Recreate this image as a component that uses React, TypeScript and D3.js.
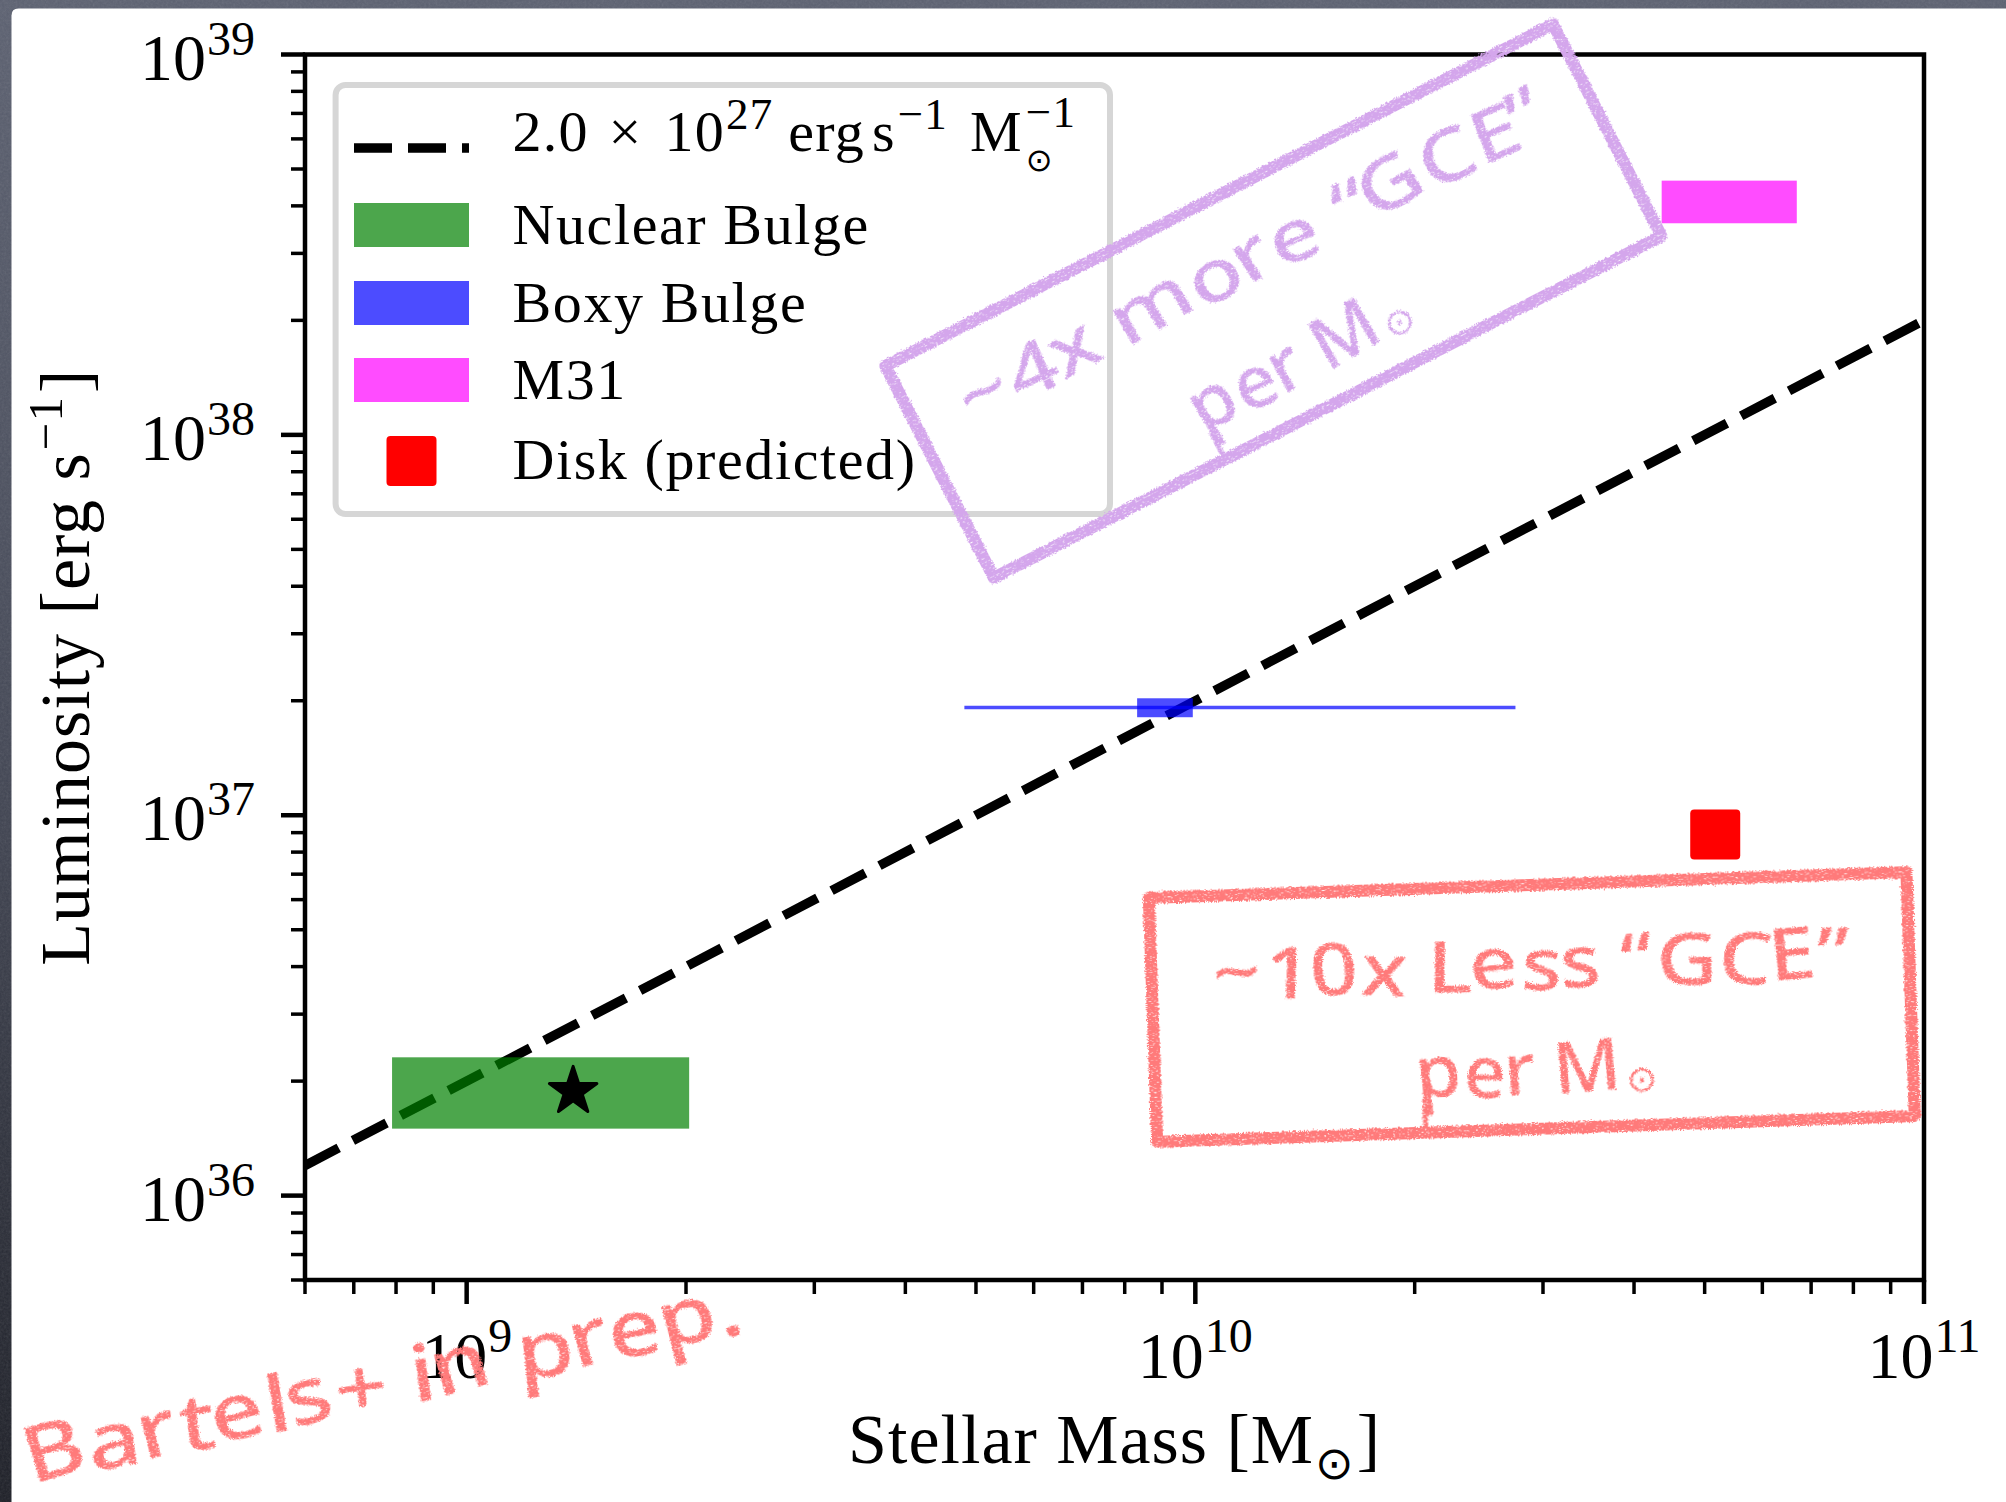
import React, { useEffect, useRef } from "react";
import * as d3 from "d3";

const WIDTH = 2006;
const HEIGHT = 1502;

const SERIF = "'Liberation Serif', 'Times New Roman', serif";
const SYMBOL = "'DejaVu Sans', sans-serif";
const HAND = "'Noto Sans', 'Open Sans', sans-serif";

// Reference scaling: gamma-ray luminosity per unit stellar mass (erg s^-1 Msun^-1)
const lumPerMass = 2.0e27;
const lineMassRange = [6e8, 1e11];

// Shaded regions: stellar-mass range and luminosity range of each component
const regionNames = ["Nuclear Bulge", "Boxy Bulge", "M31"];
const regionColors = ["green", "blue", "magenta"];
const regionMassLow = [7.9e8, 8.32e9, 4.365e10];
const regionMassHigh = [2.02e9, 9.92e9, 6.69e10];
const regionLumLow = [1.5e36, 1.81e37, 3.6e38];
const regionLumHigh = [2.31e36, 2.03e37, 4.66e38];

// Boxy bulge: full stellar-mass uncertainty at its central luminosity
const boxyMassSpan = [4.82e9, 2.75e10];
const boxyLum = 1.92e37;

// Nuclear bulge central estimate
const starMass = 1.4e9;
const starLum = 1.88e36;

// Disk prediction
const diskName = "Disk (predicted)";
const diskMass = 5.17e10;
const diskLum = 8.9e36;

// Axis ranges and decade labels
const xDomain = [6e8, 1e11];
const yDomain = [6e35, 1e39];
const xDecades = [9, 10, 11];
const yDecades = [36, 37, 38, 39];

// Hand-written annotations
const moreNoteLines = ["~4x more \u201CGCE\u201D", "per M"];
const lessNoteLines = ["~10x Less \u201CGCE\u201D", "per M"];
const creditNote = "Bartels+ in prep.";

// small per-letter tilts that give the chalk lettering a hand-drawn look
const letterTilt = [-4, 3, -2, 5, -3, 2, -5, 4, -1, 3, -4, 2, 5, -3, 1, -2, 4];

const PLOT = { left: 305, right: 1924, top: 54.5, bottom: 1280 };

type Part = {
  t: string;
  size: number;
  dy?: number;
  gap?: number;
  stack?: boolean;
  family?: string;
};

// Lays out a run of text pieces (base, super- and subscripts) left to right.
function richText(
  parent: any,
  parts: Part[],
  x: number,
  y: number,
  anchor: "start" | "middle" | "end",
  opts: { family: string; fill: string; rotate?: number; spacing?: number }
) {
  const g = parent
    .append("g")
    .attr("transform", `translate(${x},${y})${opts.rotate ? ` rotate(${opts.rotate})` : ""}`);
  const inner = g.append("g");
  let cursor = 0;
  let lastStart = 0;
  let lastEnd = 0;
  parts.forEach((p) => {
    const start = p.stack ? lastStart : cursor + (p.gap || 0);
    const el = inner
      .append("text")
      .attr("x", start)
      .attr("y", p.dy || 0)
      .attr("font-size", p.size)
      .attr("font-family", p.family || opts.family)
      .attr("fill", opts.fill)
      .attr("letter-spacing", opts.spacing || 0)
      .text(p.t);
    const w = (el.node() as SVGTextElement).getComputedTextLength();
    const end = start + w;
    if (p.stack) {
      cursor = Math.max(lastEnd, end);
      lastEnd = cursor;
    } else {
      lastStart = start;
      lastEnd = end;
      cursor = end;
    }
  });
  const shift = anchor === "middle" ? -cursor / 2 : anchor === "end" ? -cursor : 0;
  inner.attr("transform", `translate(${shift},0)`);
  return g;
}

function draw(svgEl: SVGSVGElement) {
  const svg = d3.select(svgEl);
  svg.selectAll("*").remove();

  const defs = svg.append("defs");

  const grad = defs
    .append("linearGradient")
    .attr("id", "frameShade")
    .attr("x1", 0)
    .attr("y1", 0)
    .attr("x2", 0)
    .attr("y2", 1);
  grad.append("stop").attr("offset", 0).attr("stop-color", "#5c6171");
  grad.append("stop").attr("offset", 0.5).attr("stop-color", "#434755");
  grad.append("stop").attr("offset", 1).attr("stop-color", "#1c1e26");

  const grain = defs.append("filter").attr("id", "slateGrain");
  grain
    .append("feTurbulence")
    .attr("type", "fractalNoise")
    .attr("baseFrequency", 0.45)
    .attr("numOctaves", 3)
    .attr("seed", 4);
  grain.append("feColorMatrix").attr("type", "saturate").attr("values", 0);

  // chalk texture for hand-drawn marks: ragged edges plus a few light streaks
  const chalk = defs
    .append("filter")
    .attr("id", "chalk")
    .attr("x", "-10%")
    .attr("y", "-10%")
    .attr("width", "120%")
    .attr("height", "120%");
  chalk
    .append("feTurbulence")
    .attr("type", "fractalNoise")
    .attr("baseFrequency", 0.9)
    .attr("numOctaves", 2)
    .attr("seed", 7)
    .attr("result", "wobble");
  chalk
    .append("feDisplacementMap")
    .attr("in", "SourceGraphic")
    .attr("in2", "wobble")
    .attr("scale", 5)
    .attr("xChannelSelector", "R")
    .attr("yChannelSelector", "G")
    .attr("result", "shifted");
  chalk
    .append("feTurbulence")
    .attr("type", "fractalNoise")
    .attr("baseFrequency", "0.35 1.2")
    .attr("numOctaves", 1)
    .attr("seed", 11)
    .attr("result", "speck");
  chalk
    .append("feColorMatrix")
    .attr("in", "speck")
    .attr("type", "matrix")
    .attr("values", "0 0 0 0 0  0 0 0 0 0  0 0 0 0 0  0 0 0 4.5 -0.9")
    .attr("result", "speckMask");
  chalk
    .append("feComposite")
    .attr("in", "shifted")
    .attr("in2", "speckMask")
    .attr("operator", "in");

  defs
    .append("clipPath")
    .attr("id", "plotClip")
    .append("rect")
    .attr("x", PLOT.left)
    .attr("y", PLOT.top)
    .attr("width", PLOT.right - PLOT.left)
    .attr("height", PLOT.bottom - PLOT.top);

  // slate frame and white slide
  svg.append("rect").attr("width", WIDTH).attr("height", HEIGHT).attr("fill", "url(#frameShade)");
  svg
    .append("rect")
    .attr("width", WIDTH)
    .attr("height", HEIGHT)
    .attr("filter", "url(#slateGrain)")
    .attr("opacity", 0.14);
  const px = 11.5;
  const py = 8.5;
  const r = 7;
  svg
    .append("path")
    .attr(
      "d",
      `M${px},${py + r} Q${px},${py} ${px + r},${py} L${WIDTH},${py} L${WIDTH},${HEIGHT} L${px},${HEIGHT} Z`
    )
    .attr("fill", "#ffffff");

  const x = d3.scaleLog().domain(xDomain).range([PLOT.left, PLOT.right]);
  const y = d3.scaleLog().domain(yDomain).range([PLOT.bottom, PLOT.top]);

  const plot = svg.append("g").attr("clip-path", "url(#plotClip)");

  // reference scaling line
  const line = d3
    .line<number>()
    .x((m) => x(m))
    .y((m) => y(m * lumPerMass));
  plot
    .append("path")
    .attr("d", line(lineMassRange))
    .attr("fill", "none")
    .attr("stroke", "#000")
    .attr("stroke-width", 9.5)
    .attr("stroke-dasharray", "38 16");

  // boxy-bulge mass span
  plot
    .append("line")
    .attr("x1", x(boxyMassSpan[0]))
    .attr("x2", x(boxyMassSpan[1]))
    .attr("y1", y(boxyLum))
    .attr("y2", y(boxyLum))
    .attr("stroke", "blue")
    .attr("stroke-opacity", 0.7)
    .attr("stroke-width", 3.5);

  // component regions
  regionNames.forEach((_, i) => {
    plot
      .append("rect")
      .attr("x", x(regionMassLow[i]))
      .attr("y", y(regionLumHigh[i]))
      .attr("width", x(regionMassHigh[i]) - x(regionMassLow[i]))
      .attr("height", y(regionLumLow[i]) - y(regionLumHigh[i]))
      .attr("fill", regionColors[i])
      .attr("fill-opacity", 0.7);
  });

  // nuclear bulge estimate
  plot
    .append("path")
    .attr("d", d3.symbol(d3.symbolStar, 700)())
    .attr("transform", `translate(${x(starMass)},${y(starLum)})`)
    .attr("fill", "#000")
    .attr("stroke", "#000")
    .attr("stroke-width", 3)
    .attr("stroke-linejoin", "round");

  // disk prediction
  const sq = 50;
  plot
    .append("rect")
    .attr("x", x(diskMass) - sq / 2)
    .attr("y", y(diskLum) - sq / 2)
    .attr("width", sq)
    .attr("height", sq)
    .attr("rx", 4)
    .attr("fill", "red");

  // ticks
  const axes = svg.append("g");
  const isMajor = (v: number) => Math.abs(Math.log10(v) - Math.round(Math.log10(v))) < 1e-9;
  x.ticks().forEach((v) => {
    const major = isMajor(v);
    axes
      .append("line")
      .attr("x1", x(v))
      .attr("x2", x(v))
      .attr("y1", PLOT.bottom)
      .attr("y2", PLOT.bottom + (major ? 24 : 14))
      .attr("stroke", "#000")
      .attr("stroke-width", major ? 4.5 : 3.5);
  });
  y.ticks().forEach((v) => {
    const major = isMajor(v);
    axes
      .append("line")
      .attr("y1", y(v))
      .attr("y2", y(v))
      .attr("x1", PLOT.left)
      .attr("x2", PLOT.left - (major ? 24 : 14))
      .attr("stroke", "#000")
      .attr("stroke-width", major ? 4.5 : 3.5);
  });
  axes
    .append("rect")
    .attr("x", PLOT.left)
    .attr("y", PLOT.top)
    .attr("width", PLOT.right - PLOT.left)
    .attr("height", PLOT.bottom - PLOT.top)
    .attr("fill", "none")
    .attr("stroke", "#000")
    .attr("stroke-width", 4.5);

  // tick labels
  xDecades.forEach((e) => {
    richText(
      svg,
      [
        { t: "10", size: 66 },
        { t: String(e), size: 48, dy: -26, gap: 1 },
      ],
      x(Math.pow(10, e)),
      1378,
      "middle",
      { family: SERIF, fill: "#000" }
    );
  });
  yDecades.forEach((e) => {
    richText(
      svg,
      [
        { t: "10", size: 66 },
        { t: String(e), size: 48, dy: -25, gap: 1 },
      ],
      255,
      y(Math.pow(10, e)) + 25,
      "end",
      { family: SERIF, fill: "#000" }
    );
  });

  // axis titles
  richText(
    svg,
    [
      { t: "Stellar Mass [M", size: 70 },
      { t: "\u2299", size: 46, dy: 16, family: SYMBOL, gap: 1 },
      { t: "]", size: 70, gap: 2 },
    ],
    (PLOT.left + PLOT.right) / 2,
    1463,
    "middle",
    { family: SERIF, fill: "#000", spacing: 1 }
  );
  richText(
    svg,
    [
      { t: "Luminosity [erg s", size: 70 },
      { t: "\u22121", size: 49, dy: -27, gap: 2 },
      { t: "]", size: 70, gap: 3 },
    ],
    89,
    (PLOT.top + PLOT.bottom) / 2,
    "middle",
    { family: SERIF, fill: "#000", rotate: -90, spacing: 1 }
  );

  // legend
  const lg = svg.append("g");
  lg.append("rect")
    .attr("x", 335.6)
    .attr("y", 85)
    .attr("width", 774.4)
    .attr("height", 429)
    .attr("rx", 10)
    .attr("fill", "#fff")
    .attr("fill-opacity", 0.8)
    .attr("stroke", "#d6d6d6")
    .attr("stroke-width", 6);

  const handleX0 = 354;
  const handleX1 = 469;
  const textX = 512.5;
  const rowY = [148, 225, 303, 380, 461];

  lg.append("line")
    .attr("x1", handleX0)
    .attr("x2", handleX1)
    .attr("y1", rowY[0])
    .attr("y2", rowY[0])
    .attr("stroke", "#000")
    .attr("stroke-width", 9.5)
    .attr("stroke-dasharray", "38 16");

  const exp = Math.floor(Math.log10(lumPerMass));
  const mant = (lumPerMass / Math.pow(10, exp)).toFixed(1);
  richText(
    lg,
    [
      { t: mant, size: 58 },
      { t: "\u00D7", size: 58, gap: 20 },
      { t: "10", size: 58, gap: 22 },
      { t: String(exp), size: 45, dy: -22, gap: 1 },
      { t: "erg", size: 58, gap: 15 },
      { t: "s", size: 58, gap: 7 },
      { t: "\u22121", size: 45, dy: -22, gap: 2 },
      { t: "M", size: 58, gap: 22 },
      { t: "\u2299", size: 32, dy: 20, family: SYMBOL, gap: 3 },
      { t: "\u22121", size: 45, dy: -24, stack: true },
    ],
    textX,
    rowY[0] + 3,
    "start",
    { family: SERIF, fill: "#000", spacing: 1.2 }
  );

  regionNames.forEach((name, i) => {
    lg.append("rect")
      .attr("x", handleX0)
      .attr("y", rowY[i + 1] - 22)
      .attr("width", handleX1 - handleX0)
      .attr("height", 44)
      .attr("fill", regionColors[i])
      .attr("fill-opacity", 0.7);
    lg.append("text")
      .attr("x", textX)
      .attr("y", rowY[i + 1] + 19)
      .attr("font-family", SERIF)
      .attr("font-size", 58)
      .attr("letter-spacing", 1.6)
      .text(name);
  });
  lg.append("rect")
    .attr("x", (handleX0 + handleX1) / 2 - 25)
    .attr("y", rowY[4] - 25)
    .attr("width", 50)
    .attr("height", 50)
    .attr("rx", 4)
    .attr("fill", "red");
  lg.append("text")
    .attr("x", textX)
    .attr("y", rowY[4] + 18)
    .attr("font-family", SERIF)
    .attr("font-size", 58)
    .attr("letter-spacing", 1.6)
    .text(diskName);

  const tilts = (s: string) => letterTilt.slice(0, Math.min(s.length, letterTilt.length)).join(" ");

  // hand-drawn notes
  const note = (
    cx: number,
    cy: number,
    angle: number,
    w: number,
    h: number,
    color: string,
    lines: string[],
    line1: { u: number; v: number; len: number },
    line2: { u: number; v: number; len: number }
  ) => {
    const g = svg
      .append("g")
      .attr("transform", `translate(${cx},${cy}) rotate(${angle})`)
      .attr("filter", "url(#chalk)");
    g.append("rect")
      .attr("x", -w / 2)
      .attr("y", -h / 2)
      .attr("width", w)
      .attr("height", h)
      .attr("fill", "none")
      .attr("stroke", color)
      .attr("stroke-width", 12)
      .attr("stroke-linejoin", "round");
    g.append("text")
      .attr("x", line1.u)
      .attr("y", line1.v)
      .attr("text-anchor", "middle")
      .attr("font-family", HAND)
      .attr("font-weight", 500)
      .attr("font-size", 72)
      .attr("fill", color)
      .attr("rotate", tilts(lines[0]))
      .attr("textLength", line1.len)
      .attr("lengthAdjust", "spacingAndGlyphs")
      .text(lines[0]);
    const t2 = g
      .append("text")
      .attr("x", line2.u)
      .attr("y", line2.v)
      .attr("text-anchor", "middle")
      .attr("font-family", HAND)
      .attr("font-weight", 500)
      .attr("font-size", 72)
      .attr("fill", color)
      .attr("textLength", line2.len)
      .attr("lengthAdjust", "spacingAndGlyphs");
    t2.append("tspan").attr("rotate", tilts(lines[1])).text(lines[1]);
    t2.append("tspan").attr("font-family", SYMBOL).attr("font-weight", 400).attr("font-size", 36).attr("dx", 4).text("\u2299");
    const stemX = line2.u - line2.len / 2 + 7;
    g.append("line")
      .attr("x1", stemX)
      .attr("x2", stemX)
      .attr("y1", line2.v)
      .attr("y2", h / 2)
      .attr("stroke", color)
      .attr("stroke-width", 5);
  };

  note(1273.4, 301, -27.1, 750, 238, "#d4a6ec", moreNoteLines, { u: 3, v: -25, len: 652 }, { u: -2, v: 88, len: 240 });
  note(1531.8, 1007, -1.95, 758, 244, "#ff7a7a", lessNoteLines, { u: 1.5, v: -18, len: 635 }, { u: 3, v: 88, len: 240 });

  svg
    .append("text")
    .attr("transform", `translate(32,1484) rotate(-12)`)
    .attr("font-family", HAND)
    .attr("font-weight", 500)
    .attr("font-size", 78)
    .attr("fill", "#ff7a7a")
    .attr("rotate", tilts(creditNote))
    .attr("textLength", 730)
    .attr("lengthAdjust", "spacingAndGlyphs")
    .attr("filter", "url(#chalk)")
    .text(creditNote);
}

export default function App() {
  const ref = useRef<SVGSVGElement>(null);
  useEffect(() => {
    if (ref.current) draw(ref.current);
  }, []);
  return (
    <svg
      ref={ref}
      width={WIDTH}
      height={HEIGHT}
      style={{ position: "absolute", left: 0, top: 0, display: "block" }}
    />
  );
}
